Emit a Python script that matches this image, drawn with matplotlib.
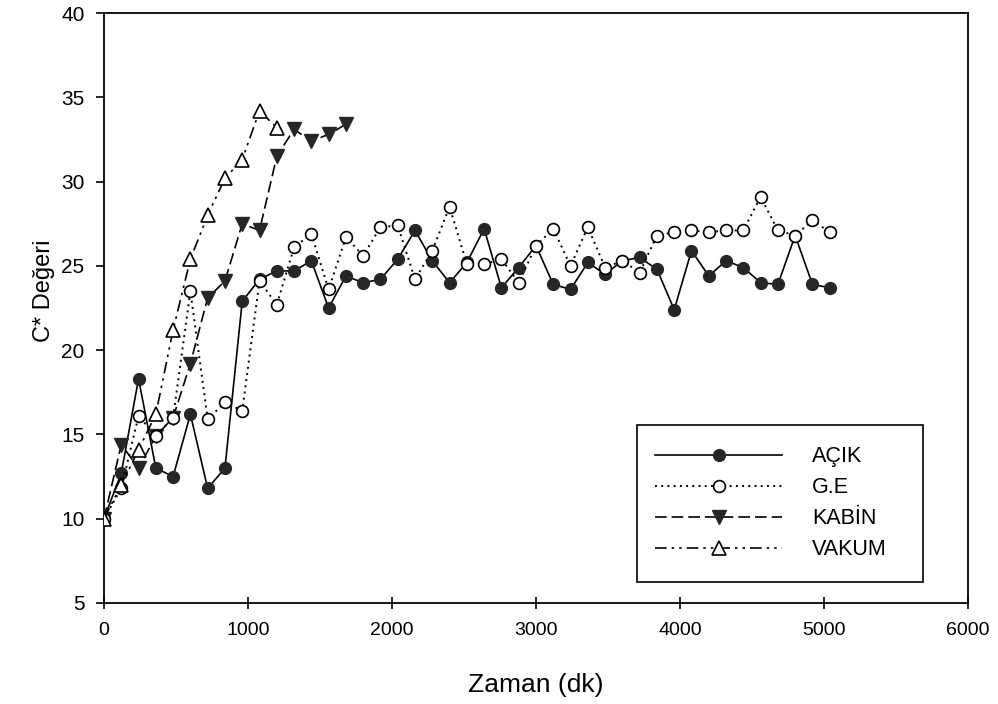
import matplotlib
matplotlib.use("Agg")
import matplotlib.pyplot as plt
from matplotlib.patches import Rectangle

# Zaman (dk) - ölçümler 120 dakikada bir
zaman = [0, 120, 240, 360, 480, 600, 720, 840, 960, 1080, 1200, 1320, 1440,
         1560, 1680, 1800, 1920, 2040, 2160, 2280, 2400, 2520, 2640, 2760,
         2880, 3000, 3120, 3240, 3360, 3480, 3600, 3720, 3840, 3960, 4080,
         4200, 4320, 4440, 4560, 4680, 4800, 4920, 5040]

acik = [10.0, 12.7, 18.3, 13.0, 12.5, 16.2, 11.8, 13.0, 22.9, 24.2, 24.7, 24.7,
        25.3, 22.5, 24.4, 24.0, 24.2, 25.4, 27.1, 25.3, 24.0, 25.2, 27.2, 23.7,
        24.9, 26.2, 23.9, 23.6, 25.2, 24.5, 25.3, 25.5, 24.8, 22.4, 25.9, 24.4,
        25.3, 24.9, 24.0, 23.9, 26.8, 23.9, 23.7]

ge = [10.0, 11.8, 16.1, 14.9, 16.0, 23.5, 15.9, 16.9, 16.4, 24.1, 22.7, 26.1,
      26.9, 23.6, 26.7, 25.6, 27.3, 27.4, 24.2, 25.9, 28.5, 25.1, 25.1, 25.4,
      24.0, 26.2, 27.2, 25.0, 27.3, 24.9, 25.3, 24.6, 26.8, 27.0, 27.1, 27.0,
      27.1, 27.1, 29.1, 27.1, 26.8, 27.7, 27.0]

zaman_kabin = [0, 120, 240, 360, 480, 600, 720, 840, 960, 1080, 1200, 1320,
               1440, 1560, 1680]
kabin = [10.0, 14.4, 13.0, 14.9, 16.0, 19.2, 23.1, 24.1, 27.5, 27.1, 31.5,
         33.1, 32.4, 32.8, 33.4]

zaman_vakum = [0, 120, 240, 360, 480, 600, 720, 840, 960, 1080, 1200]
vakum = [10.0, 12.0, 14.1, 16.2, 21.2, 25.4, 28.0, 30.2, 31.3, 34.2, 33.2]

koyu = "#262626"
yazi = ["Liberation Sans", "DejaVu Sans"]

fig = plt.figure(figsize=(9.98, 7.04), dpi=100)
ax = fig.add_axes([0.1042, 0.1435, 0.8657, 0.838])

ax.plot(zaman, acik, color="black", lw=1.2, ls="-", marker="o", ms=8.5,
        mfc=koyu, mec=koyu, label="AÇIK", zorder=3)
ax.plot(zaman, ge, color="black", lw=1.4, ls=(0, (1, 2.2)), marker="o", ms=8.5,
        mfc="white", mec="black", mew=1.2, label="G.E", zorder=4)
ax.plot(zaman_kabin, kabin, color="black", lw=1.2, ls=(0, (7, 3)), marker="v",
        ms=9.5, mfc=koyu, mec=koyu, label="KABİN", zorder=3)
ax.plot(zaman_vakum, vakum, color="black", lw=1.2,
        ls=(0, (7, 3, 1.5, 3, 1.5, 3)), marker="^", ms=9.5, mfc="white",
        mec="black", mew=1.2, label="VAKUM", zorder=4)

ax.set_xlim(0, 6000)
ax.set_ylim(5, 40)
ax.set_xticks([0, 1000, 2000, 3000, 4000, 5000, 6000])
ax.set_yticks([5, 10, 15, 20, 25, 30, 35, 40])

for s in ax.spines.values():
    s.set_linewidth(1.3)
    s.set_color("black")

ax.tick_params(axis="y", direction="out", length=6, width=1.2, pad=8,
               labelsize=15)
ax.tick_params(axis="x", direction="inout", length=8, width=1.2, pad=10,
               labelsize=14)
for lab in ax.get_yticklabels() + ax.get_xticklabels():
    lab.set_family(yazi)

ax.set_xlabel("Zaman (dk)", fontsize=19, labelpad=24, family=yazi)
ax.set_ylabel("C* Değeri", fontsize=17, labelpad=3, family=yazi)
ax.yaxis.set_label_coords(-0.057, 0.53)

# lejant kutusu
ax.add_patch(Rectangle((0.617, 0.0356), 0.331, 0.2664, transform=ax.transAxes,
                       fill=True, fc="white", ec="black", lw=1.2, zorder=5))
leg = ax.legend(loc="upper left", bbox_to_anchor=(0.638, 0.266), frameon=False,
                handlelength=5.9, handletextpad=1.4,
                labelspacing=0.47, borderpad=0, borderaxespad=0,
                prop={"family": yazi, "size": 15.5})
leg.set_zorder(6)

fig.savefig("out.png", dpi=100)
